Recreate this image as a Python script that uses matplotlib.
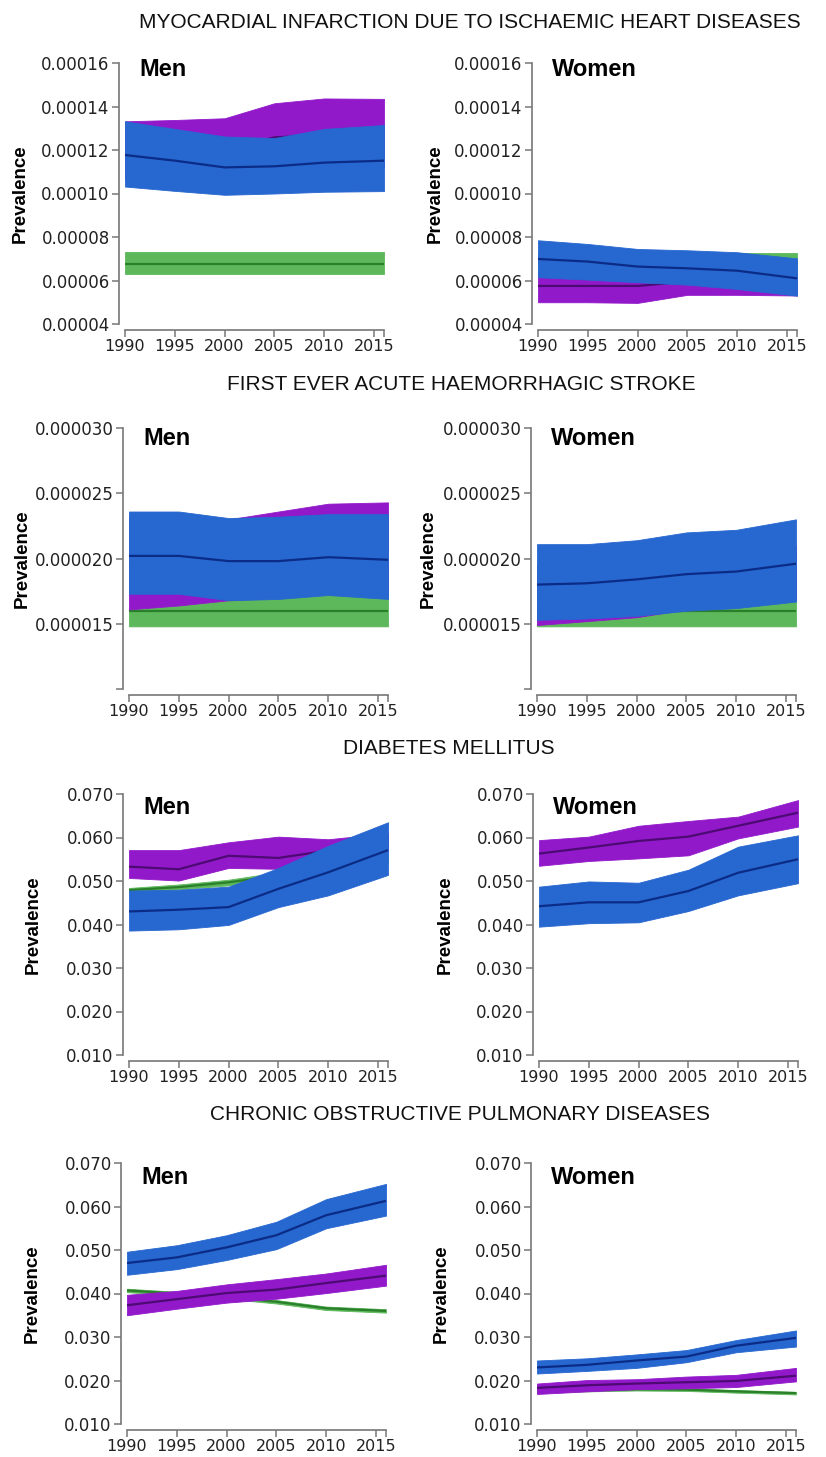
import matplotlib
matplotlib.use("Agg")
import matplotlib.pyplot as plt
from matplotlib.ticker import FormatStrFormatter

# Survey years
years = [1990, 1995, 2000, 2005, 2010, 2016]
year_ticks = [1990, 1995, 2000, 2005, 2010, 2015]

# Each series: [lower bound, estimate, upper bound]
# Myocardial infarction
mi_men_green = [[0.0000631] * 6, [0.0000674] * 6, [0.0000729] * 6]
mi_men_purple = [
    [0.000106, 0.000106, 0.000107, 0.000110, 0.000112, 0.000112],
    [0.000118, 0.000119, 0.000120, 0.0001258, 0.000127, 0.000127],
    [0.0001332, 0.0001338, 0.0001346, 0.0001415, 0.0001437, 0.0001435],
]
mi_men_blue = [
    [0.0001032, 0.0001012, 0.0000994, 0.0001000, 0.0001008, 0.0001011],
    [0.0001177, 0.0001151, 0.0001120, 0.0001125, 0.0001142, 0.0001151],
    [0.0001332, 0.0001297, 0.0001262, 0.0001255, 0.0001297, 0.0001315],
]
mi_women_green = [[0.0000630] * 6, [0.0000680] * 6, [0.0000728] * 6]
mi_women_purple = [
    [0.0000500, 0.0000500, 0.0000497, 0.0000534, 0.0000534, 0.0000531],
    [0.0000575, 0.0000575, 0.0000575, 0.0000595, 0.0000585, 0.0000570],
    [0.0000640, 0.0000645, 0.0000650, 0.0000660, 0.0000650, 0.0000630],
]
mi_women_blue = [
    [0.0000615, 0.0000604, 0.0000592, 0.0000581, 0.0000561, 0.0000530],
    [0.0000699, 0.0000687, 0.0000664, 0.0000656, 0.0000645, 0.0000610],
    [0.0000785, 0.0000768, 0.0000745, 0.0000739, 0.0000730, 0.0000702],
]

# Haemorrhagic stroke
stroke_men_green = [
    [0.0000148] * 6,
    [0.0000160] * 6,
    [0.0000161, 0.0000164, 0.0000168, 0.0000170, 0.0000173, 0.0000170],
]
stroke_men_purple = [
    [0.0000161, 0.0000164, 0.0000168, 0.0000170, 0.0000173, 0.0000170],
    [0.0000195, 0.0000196, 0.0000197, 0.0000200, 0.0000205, 0.0000205],
    [0.0000232, 0.0000232, 0.0000230, 0.0000236, 0.0000242, 0.0000243],
]
stroke_men_blue = [
    [0.0000173, 0.0000173, 0.0000168, 0.0000169, 0.0000172, 0.0000169],
    [0.0000202, 0.0000202, 0.0000198, 0.0000198, 0.0000201, 0.0000199],
    [0.0000236, 0.0000236, 0.0000231, 0.0000232, 0.0000234, 0.0000234],
]
stroke_women_green = [
    [0.0000148] * 6,
    [0.0000160] * 6,
    [0.0000162, 0.0000162, 0.0000162, 0.0000163, 0.0000164, 0.0000168],
]
stroke_women_purple = [
    [0.0000149, 0.0000152, 0.0000155, 0.0000161, 0.0000163, 0.0000168],
    [0.0000170, 0.0000172, 0.0000174, 0.0000178, 0.0000180, 0.0000184],
    [0.0000195, 0.0000197, 0.0000199, 0.0000204, 0.0000206, 0.0000210],
]
stroke_women_blue = [
    [0.0000153, 0.0000154, 0.0000156, 0.0000160, 0.0000162, 0.0000167],
    [0.0000180, 0.0000181, 0.0000184, 0.0000188, 0.0000190, 0.0000196],
    [0.0000211, 0.0000211, 0.0000214, 0.0000220, 0.0000222, 0.0000230],
]

# Diabetes mellitus
diab_men_green = [
    [0.0474, 0.0481, 0.0490, 0.0503, 0.0520, 0.0540],
    [0.0479, 0.0486, 0.0497, 0.0512, 0.0530, 0.0550],
    [0.0484, 0.0492, 0.0503, 0.0520, 0.0540, 0.0560],
]
diab_men_purple = [
    [0.0507, 0.0501, 0.0530, 0.0528, 0.0545, 0.0565],
    [0.0533, 0.0527, 0.0558, 0.0553, 0.0570, 0.0590],
    [0.0571, 0.0571, 0.0589, 0.0602, 0.0596, 0.0610],
]
diab_men_blue = [
    [0.0386, 0.0389, 0.0399, 0.0440, 0.0467, 0.0514],
    [0.0430, 0.0434, 0.0440, 0.0482, 0.0520, 0.0571],
    [0.0478, 0.0480, 0.0487, 0.0530, 0.0581, 0.0635],
]
diab_women_purple = [
    [0.0535, 0.0546, 0.0552, 0.0559, 0.0598, 0.0625],
    [0.0563, 0.0577, 0.0592, 0.0602, 0.0627, 0.0657],
    [0.0594, 0.0602, 0.0627, 0.0638, 0.0648, 0.0686],
]
diab_women_blue = [
    [0.0395, 0.0403, 0.0405, 0.0431, 0.0467, 0.0495],
    [0.0442, 0.0451, 0.0451, 0.0477, 0.0519, 0.0550],
    [0.0487, 0.0499, 0.0496, 0.0526, 0.0579, 0.0605],
]

# Chronic obstructive pulmonary diseases
copd_men_green = [
    [0.0403, 0.0396, 0.0388, 0.0377, 0.0362, 0.0356],
    [0.0407, 0.0400, 0.0392, 0.0381, 0.0366, 0.0360],
    [0.0411, 0.0404, 0.0396, 0.0385, 0.0370, 0.0364],
]
copd_men_purple = [
    [0.0350, 0.0365, 0.0379, 0.0388, 0.0401, 0.0418],
    [0.0373, 0.0387, 0.0401, 0.0409, 0.0424, 0.0441],
    [0.0397, 0.0406, 0.0421, 0.0433, 0.0446, 0.0466],
]
copd_men_blue = [
    [0.0443, 0.0456, 0.0477, 0.0502, 0.0550, 0.0579],
    [0.0470, 0.0483, 0.0506, 0.0534, 0.0580, 0.0613],
    [0.0496, 0.0511, 0.0534, 0.0565, 0.0617, 0.0652],
]
copd_women_green = [
    [0.0173, 0.0175, 0.0177, 0.0176, 0.0172, 0.0168],
    [0.0176, 0.0178, 0.0180, 0.0179, 0.0175, 0.0171],
    [0.0179, 0.0181, 0.0183, 0.0182, 0.0178, 0.0174],
]
copd_women_purple = [
    [0.0169, 0.0175, 0.0180, 0.0182, 0.0185, 0.0198],
    [0.0183, 0.0189, 0.0193, 0.0196, 0.0199, 0.0211],
    [0.0193, 0.0201, 0.0203, 0.0209, 0.0213, 0.0229],
]
copd_women_blue = [
    [0.0216, 0.0222, 0.0229, 0.0242, 0.0265, 0.0278],
    [0.0230, 0.0236, 0.0246, 0.0255, 0.0280, 0.0298],
    [0.0246, 0.0251, 0.0260, 0.0270, 0.0293, 0.0315],
]

section_titles = [
    "MYOCARDIAL INFARCTION DUE TO ISCHAEMIC HEART DISEASES",
    "FIRST EVER ACUTE HAEMORRHAGIC STROKE",
    "DIABETES MELLITUS",
    "CHRONIC OBSTRUCTIVE PULMONARY DISEASES",
]

FILL = {"green": "#5db85b", "purple": "#9219ca", "blue": "#2767d0"}
LINE = {"green": "#2a7f2a", "purple": "#4c0a72", "blue": "#0b2c86"}

W, H = 826, 1457


def px_axes(fig, left, top, w, h):
    return fig.add_axes([left / W, 1 - (top + h) / H, w / W, h / H])


def draw_panel(ax, series, ylim, yticks, fmt, extra_ytick=None):
    # green underneath, then purple, then blue on top;
    # each estimate line sits on its own band, below the next band
    for i, (name, band) in enumerate(series):
        if band is None:
            continue
        lo, mid, hi = band
        ax.fill_between(years, lo, hi, facecolor=FILL[name],
                        edgecolor=FILL[name], linewidth=0.6,
                        zorder=2 + 2 * i)
        ax.plot(years, mid, color=LINE[name], linewidth=1.6,
                solid_capstyle="butt", zorder=3 + 2 * i)

    ax.set_xlim(1990, 2016)
    ax.set_ylim(*ylim)
    ax.set_xticks(year_ticks)
    ax.set_xticks([2016], minor=True)
    ax.set_yticks(yticks)
    if extra_ytick is not None:
        ax.set_yticks([extra_ytick], minor=True)
    ax.yaxis.set_major_formatter(FormatStrFormatter(fmt))

    for side in ("top", "right"):
        ax.spines[side].set_visible(False)
    ax.spines["left"].set_position(("outward", 4))
    ax.spines["bottom"].set_position(("outward", 4.3))
    for side in ("left", "bottom"):
        ax.spines[side].set_color("#777777")
        ax.spines[side].set_linewidth(1.2)

    ax.tick_params(which="both", direction="out", length=5, width=1.1,
                   color="#777777", labelcolor="#222222")
    ax.tick_params(axis="y", labelsize=12, pad=2)
    ax.tick_params(axis="x", labelsize=11.5, pad=1.5)
    ax.patch.set_alpha(0)


fig = plt.figure(figsize=(W / 100, H / 100), dpi=100)

panel_w, panel_h = 259, 261
row_tops = [63, 428, 794, 1163]
men_lefts = [125, 129, 129, 127]
women_lefts = [538, 537, 539, 537]
men_ylabel_x = [20, 22, 33, 32]
women_ylabel_x = [435, 428, 445, 441]
sex_label_dy = [7, 10, 13, 15]
title_pos = [(470, 22), (461, 384), (449, 748), (460, 1115)]

rows = [
    (mi_men_green, mi_men_purple, mi_men_blue,
     mi_women_green, mi_women_purple, mi_women_blue,
     (0.00004, 0.00016), [0.00004 + 0.00002 * i for i in range(7)], "%.5f", None),
    (stroke_men_green, stroke_men_purple, stroke_men_blue,
     stroke_women_green, stroke_women_purple, stroke_women_blue,
     (0.00001, 0.00003), [0.000015, 0.00002, 0.000025, 0.00003], "%.6f", 0.00001),
    (diab_men_green, diab_men_purple, diab_men_blue,
     None, diab_women_purple, diab_women_blue,
     (0.01, 0.07), [0.01 * i for i in range(1, 8)], "%.3f", None),
    (copd_men_green, copd_men_purple, copd_men_blue,
     copd_women_green, copd_women_purple, copd_women_blue,
     (0.01, 0.07), [0.01 * i for i in range(1, 8)], "%.3f", None),
]

for r, row in enumerate(rows):
    mg, mp, mb, wg, wp, wb, ylim, yticks, fmt, extra = row
    top = row_tops[r]

    for left, label, data, ylab_x in (
        (men_lefts[r], "Men", (mg, mp, mb), men_ylabel_x[r]),
        (women_lefts[r], "Women", (wg, wp, wb), women_ylabel_x[r]),
    ):
        ax = px_axes(fig, left, top, panel_w, panel_h)
        draw_panel(ax, list(zip(("green", "purple", "blue"), data)),
                   ylim, yticks, fmt, extra)
        fig.text((left + 14) / W, 1 - (top + sex_label_dy[r]) / H, label,
                 ha="left", va="center", fontsize=17, fontweight="bold",
                 family="Liberation Sans", color="black")
        fig.text(ylab_x / W, 1 - (top + panel_h / 2) / H, "Prevalence",
                 rotation=90, ha="center", va="center", fontsize=13.5,
                 fontweight="bold", family="Liberation Sans", color="black")

    tx, ty = title_pos[r]
    fig.text(tx / W, 1 - ty / H, section_titles[r], ha="center", va="center",
             fontsize=15, family="Liberation Sans", color="#111111")

fig.savefig("out.png", dpi=100)
